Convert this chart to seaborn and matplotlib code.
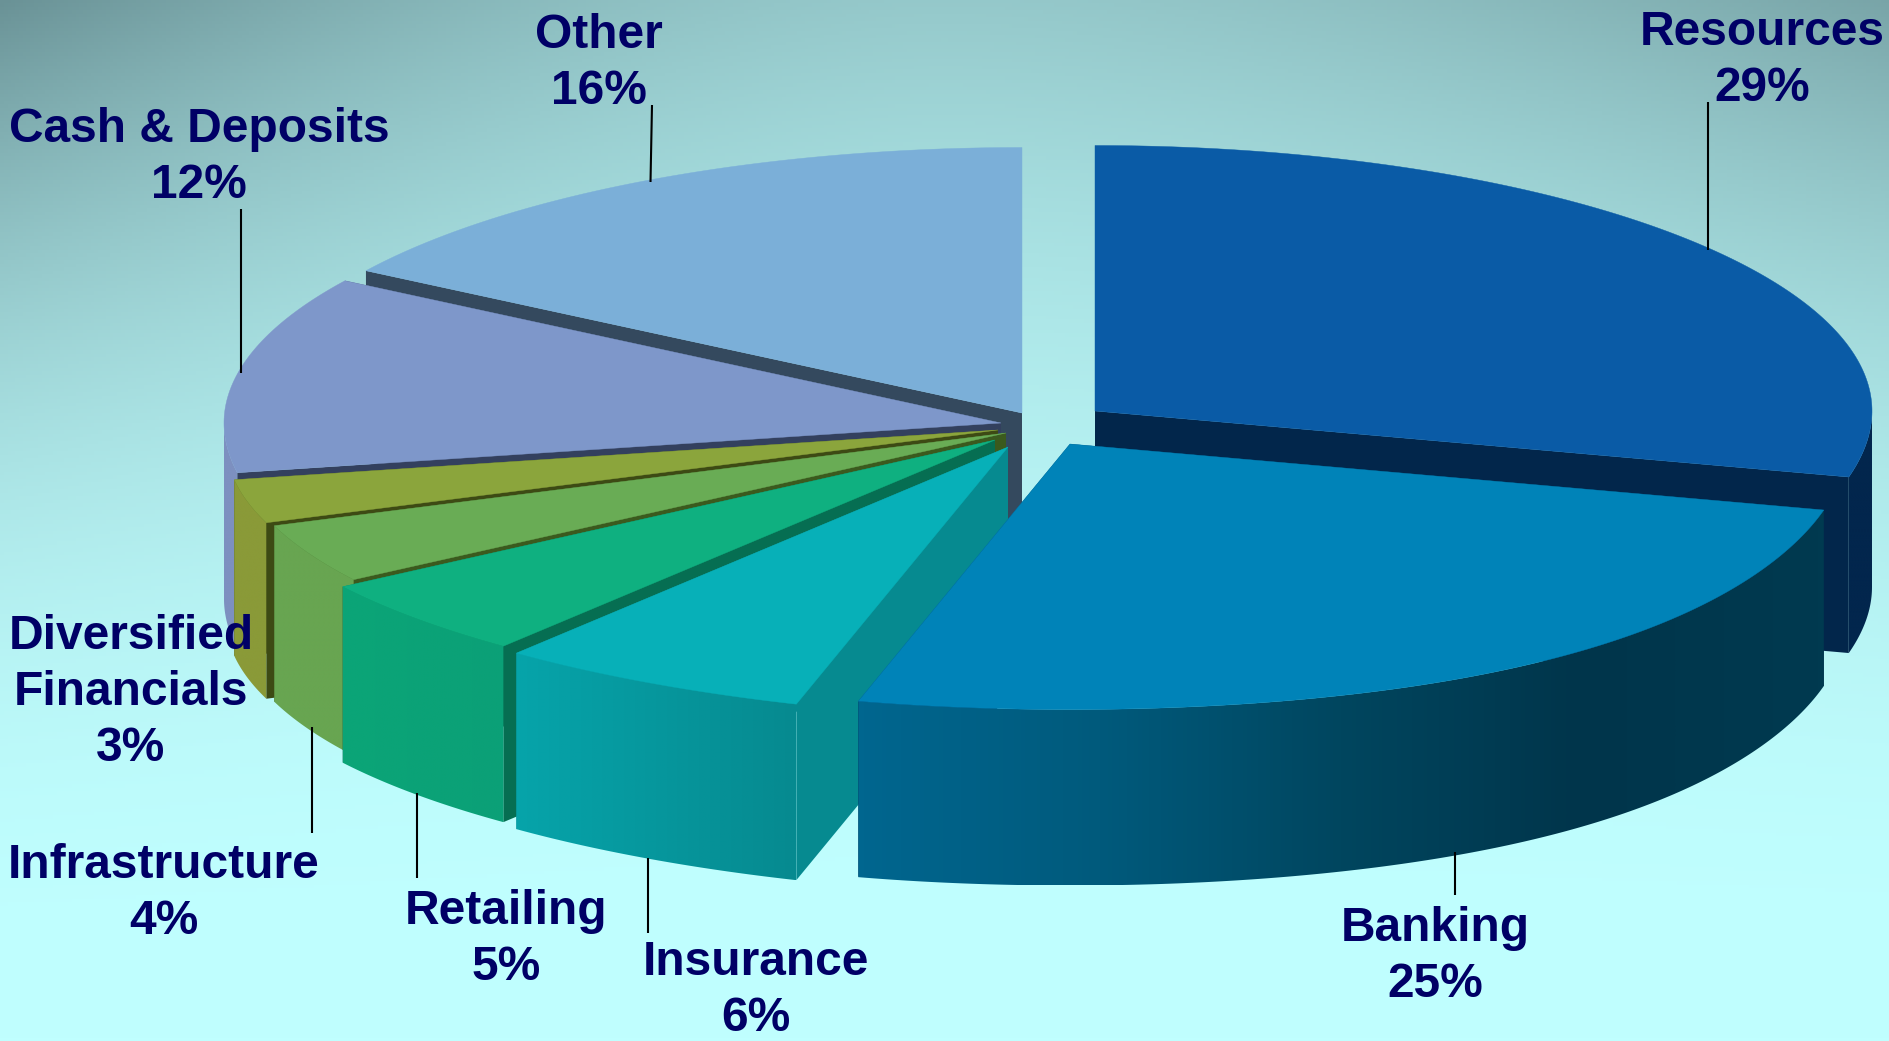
import numpy as np
import matplotlib
matplotlib.use("Agg")
import matplotlib.pyplot as plt
from matplotlib.patches import Polygon
from matplotlib.colors import LinearSegmentedColormap, to_rgb
import seaborn as sns

# ---- data ----
categories = ["Resources", "Banking", "Insurance", "Retailing", "Infrastructure",
              "Diversified\nFinancials", "Cash & Deposits", "Other"]
shares = [29, 25, 6, 5, 4, 3, 12, 16]

# ---- styling ----
W, H = 1889, 1041
top_colors = ["#0a5ba6", "#0083b8", "#07b0b8", "#0fb080", "#69ac55", "#8ba53c", "#7e97ca", "#7bafd8"]
side_colors = ["#02264b", "#02264b", "#068a90", "#066e52", "#3b5a1e", "#3d4a14", "#33405e", "#34495e"]
rim_stops = [["#02264d", "#02264d"],
             ["#00668f", "#005a7c", "#00465f", "#00354b", "#003a50"],
             ["#06a4aa", "#068a90"],
             ["#0ba577", "#0ba077"],
             ["#68a551", "#68a551"],
             ["#8a9a38", "#8a9a38"],
             ["#7d90c0", "#7d90c0"],
             ["#7d90c0", "#7d90c0"]]
apex = [(1095, 411), (1070, 444), (1008, 447), (995, 440), (1006, 433), (998, 430), (1001, 423), (1022, 413)]
draw_order = [7, 0, 6, 5, 4, 3, 2, 1]
RX, RY, DEPTH = 777, 265.5, 176
NAVY = "#000066"

label_spots = [(1762, 45), (1435, 941), (756, 975), (506, 924), (164, 878), (131, 649), (199, 142), (599, 48)]
leaders = [((1708, 102), (1708, 250)), ((1455, 852), (1455, 895)), ((648, 858), (648, 933)),
           ((417, 793), (417, 878)), ((312, 727), (312, 833)), None,
           ((240.6, 209), (240.6, 373)), ((652, 105), (650.5, 182))]

sns.set_theme(style="white")
plt.rcParams["font.family"] = ["Liberation Sans", "DejaVu Sans"]
palette = sns.color_palette(top_colors)
fig = plt.figure(figsize=(W / 100, H / 100), dpi=100)
ax = fig.add_axes([0, 0, 1, 1])
ax.set_axis_off()

# background
yy, xx = np.mgrid[0:H:300j, 0:W:500j]
s = 1 - yy / H
u = (xx - W / 2) / (W / 2)
side = np.where(u < 0, 0.5, 0.33)
f = s ** 2.3 * (0.5 + side * np.abs(u) ** 1.7)
bright, dark = np.array(to_rgb("#c0ffff")), np.array(to_rgb("#6a9296"))
bg = bright + (dark - bright) * f[..., None]
ax.imshow(bg, extent=(0, W, H, 0), aspect="auto", zorder=0)


def rim_point(c, deg):
    a = np.radians(deg)
    y = -np.cos(a)
    scale = 1 + 0.105 * max(y, 0) ** 3
    dx = RX * np.sin(a) * scale
    dy = RY * y
    if 194.4 < deg < 259.2:
        t = np.sin(np.pi * (deg - 194.4) / 64.8)
        dy -= 10 * t
        dx -= 11 * t
    return c[0] + dx, c[1] + dy


def arc(c, a0, a1):
    n = max(int(abs(a1 - a0) * 2), 2)
    return np.array([rim_point(c, d) for d in np.linspace(a0, a1, n)])


def gradient_poly(pts, stops, z):
    poly = Polygon(pts, closed=True, fc="none", ec="none", zorder=z)
    ax.add_patch(poly)
    cmap = LinearSegmentedColormap.from_list("g", stops)
    x0, x1 = pts[:, 0].min(), pts[:, 0].max()
    y0, y1 = pts[:, 1].min(), pts[:, 1].max()
    im = ax.imshow(np.linspace(0, 1, 256)[None, :], cmap=cmap, extent=(x0, x1, y1, y0),
                   aspect="auto", zorder=z, interpolation="bilinear")
    im.set_clip_path(poly)


edges = np.cumsum([0] + shares) / sum(shares) * 360
z = 1.0
for i in draw_order:
    a0, a1 = edges[i], edges[i + 1]
    c = apex[i]
    for deg in (a0, a1):
        p = rim_point(c, deg)
        face = [c, p, (p[0], p[1] + DEPTH), (c[0], c[1] + DEPTH)]
        ax.add_patch(Polygon(face, closed=True, fc=side_colors[i], ec="none", zorder=z))
    z += 0.1
    r0, r1 = max(a0, 90), min(a1, 270)
    if r1 > r0:
        top = arc(c, r0, r1)
        bot = top[::-1] + [0, DEPTH]
        gradient_poly(np.vstack([top, bot]), rim_stops[i], z)
    z += 0.1
    top_pts = np.vstack([[c], arc(c, a0, a1)])
    ax.add_patch(Polygon(top_pts, closed=True, fc=palette[i], ec=palette[i], lw=0.3, zorder=z))
    z += 0.1

for seg in leaders:
    if seg:
        ax.plot([seg[0][0], seg[1][0]], [seg[0][1], seg[1][1]], color="black", lw=1.5, zorder=z,
                solid_capstyle="butt")

LINE = 56
for name, share, (x, y) in zip(categories, shares, label_spots):
    for k, line in enumerate(name.split("\n") + [f"{share}%"]):
        ax.text(x, y + k * LINE, line, ha="center", va="baseline", fontsize=34.5,
                fontweight="bold", color=NAVY, zorder=z + 1)

ax.set_xlim(0, W)
ax.set_ylim(H, 0)
fig.savefig("out.png", dpi=100)
